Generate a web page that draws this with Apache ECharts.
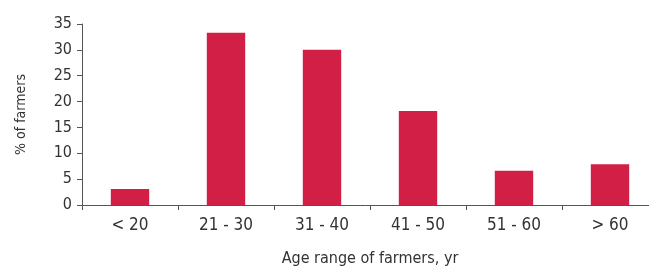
<!DOCTYPE html>
<html><head><meta charset="utf-8">
<script src="https://cdn.jsdelivr.net/npm/echarts@6/dist/echarts.min.js"></script>
<style>html,body{margin:0;padding:0;background:#fff}#c{width:649px;height:269px}</style>
</head><body><div id="c"></div>
<script>
const categories = ['< 20', '21 - 30', '31 - 40', '41 - 50', '51 - 60', '> 60'];
const percentFarmers = [3.1, 33.3, 30.0, 18.2, 6.6, 7.9];
const yTicks = [0, 5, 10, 15, 20, 25, 30, 35];

const font = '"DejaVu Sans Condensed", "Liberation Sans Narrow", sans-serif';
const chart = echarts.init(document.getElementById('c'), null, {renderer: 'canvas'});
chart.setOption({
  animation: false,
  grid: {left: 82, width: 576, top: 24, bottom: 64, containLabel: false, outerBoundsMode: 'none'},
  xAxis: {
    type: 'category', data: categories,
    name: 'Age range of farmers, yr', nameLocation: 'middle', nameGap: 46,
    nameTextStyle: {fontFamily: font, fontSize: 16, color: '#333'},
    axisLine: {lineStyle: {color: '#555', width: 1}},
    axisTick: {show: true, length: 5, lineStyle: {color: '#555'}},
    axisLabel: {fontFamily: font, fontSize: 17, color: '#333', margin: 12}
  },
  yAxis: {
    type: 'value', min: yTicks[0], max: yTicks[yTicks.length - 1], interval: 5,
    name: '% of farmers', nameLocation: 'middle', nameGap: 54,
    nameTextStyle: {fontFamily: font, fontSize: 14, color: '#333'},
    axisLine: {show: true, lineStyle: {color: '#555', width: 1}},
    axisTick: {show: true, length: 5, lineStyle: {color: '#555'}},
    splitLine: {show: false},
    axisLabel: {fontFamily: font, fontSize: 16, color: '#333', margin: 10}
  },
  series: [{
    type: 'bar', data: percentFarmers, barWidth: '40%',
    itemStyle: {color: '#D11F45'}
  }]
});
</script></body></html>
